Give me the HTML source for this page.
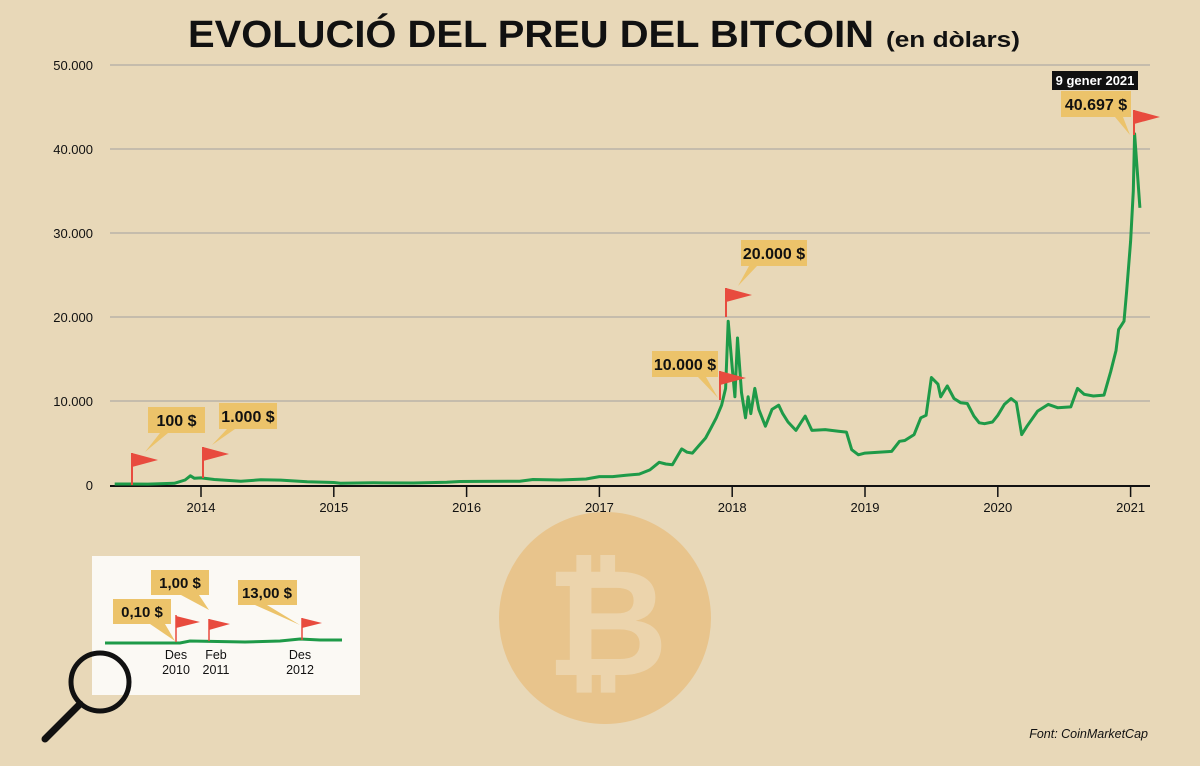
<!DOCTYPE html>
<html><head><meta charset="utf-8">
<style>
body{margin:0;background:#e8d8b8;}
svg{display:block;font-family:"Liberation Sans",sans-serif;}
</style></head>
<body>
<svg id="c" width="1200" height="766" viewBox="0 0 1200 766">
<rect x="0" y="0" width="1200" height="766" fill="#e8d8b8"/>
<text x="188" y="47" font-size="38" font-weight="900" fill="#111" textLength="686" lengthAdjust="spacingAndGlyphs">EVOLUCIÓ DEL PREU DEL BITCOIN</text>
<text x="886" y="47" font-size="22" font-weight="700" fill="#111" textLength="134" lengthAdjust="spacingAndGlyphs">(en dòlars)</text>
<g>
<circle cx="605" cy="618" r="106" fill="#e8c48c"/>
<text x="607" y="675" font-size="150" font-weight="700" fill="#ecd4ac" text-anchor="middle">₿</text>
</g>
<g id="grid"></g>
<g id="axes"></g>
<path id="line" fill="none" stroke="#1e9a48" stroke-width="3" stroke-linejoin="round"/>
<g id="ann"></g>
<g>
<rect x="92" y="556" width="268" height="139" fill="#fbf9f4"/>
<path d="M105,643 L180,643 L190,641 L245,642 L280,641 L300,639 L320,640 L342,640" stroke="#1e9a48" stroke-width="3" fill="none"/>
<line x1="176" y1="615" x2="176" y2="642" stroke="#e84b3e" stroke-width="1.5"/><polygon points="176,616 200,622 176,628" fill="#e84b3e"/>
<line x1="209" y1="619" x2="209" y2="641" stroke="#e84b3e" stroke-width="1.5"/><polygon points="209,619 230,624 209,630" fill="#e84b3e"/>
<line x1="302" y1="618" x2="302" y2="640" stroke="#e84b3e" stroke-width="1.5"/><polygon points="302,618 322,623 302,628" fill="#e84b3e"/>
<path d="M113,599 h58 v25 h-6 l10,17 l-25,-17 h-37z" fill="#ecc36a"/><text x="142" y="617" font-size="15" font-weight="700" text-anchor="middle" fill="#111">0,10 $</text>
<path d="M151,570 h58 v25 h-10 l10,15 l-28,-15 h-30z" fill="#ecc36a"/><text x="180" y="588" font-size="15" font-weight="700" text-anchor="middle" fill="#111">1,00 $</text>
<path d="M238,580 h59 v25 h-30 l33,20 l-45,-20 h-17z" fill="#ecc36a"/><text x="267" y="598" font-size="15" font-weight="700" text-anchor="middle" fill="#111">13,00 $</text>
<text x="176" y="659" font-size="12.5" text-anchor="middle" fill="#111">Des</text><text x="176" y="674" font-size="12.5" text-anchor="middle" fill="#111">2010</text>
<text x="216" y="659" font-size="12.5" text-anchor="middle" fill="#111">Feb</text><text x="216" y="674" font-size="12.5" text-anchor="middle" fill="#111">2011</text>
<text x="300" y="659" font-size="12.5" text-anchor="middle" fill="#111">Des</text><text x="300" y="674" font-size="12.5" text-anchor="middle" fill="#111">2012</text>
</g>
<g>
<circle cx="100" cy="682" r="29" fill="none" stroke="#111" stroke-width="5"/>
<line x1="80" y1="704" x2="45" y2="739" stroke="#111" stroke-width="7" stroke-linecap="round"/>
</g>
<text x="1148" y="738" font-size="12.5" font-style="italic" text-anchor="end" fill="#111">Font: CoinMarketCap</text>
</svg>
<script>
const yTicks=[0,10000,20000,30000,40000,50000];
const yTickLabels=["0","10.000","20.000","30.000","40.000","50.000"];
const xTicks=[2014,2015,2016,2017,2018,2019,2020,2021];
const dates=[2013.35,2013.6,2013.8,2013.88,2013.92,2013.95,2014.0,2014.1,2014.2,2014.3,2014.45,2014.6,2014.8,2015.0,2015.05,2015.3,2015.6,2015.85,2015.95,2016.1,2016.4,2016.5,2016.7,2016.9,2017.0,2017.1,2017.2,2017.3,2017.38,2017.45,2017.5,2017.55,2017.62,2017.66,2017.7,2017.75,2017.8,2017.84,2017.88,2017.92,2017.95,2017.97,2018.0,2018.02,2018.04,2018.07,2018.1,2018.12,2018.14,2018.17,2018.2,2018.25,2018.3,2018.35,2018.38,2018.42,2018.48,2018.52,2018.55,2018.6,2018.7,2018.8,2018.86,2018.9,2018.95,2019.0,2019.1,2019.2,2019.26,2019.3,2019.37,2019.42,2019.46,2019.5,2019.55,2019.57,2019.62,2019.67,2019.72,2019.77,2019.82,2019.86,2019.9,2019.96,2020.0,2020.05,2020.1,2020.14,2020.18,2020.22,2020.3,2020.38,2020.45,2020.55,2020.6,2020.65,2020.72,2020.8,2020.85,2020.89,2020.91,2020.93,2020.95,2020.97,2021.0,2021.02,2021.03,2021.05,2021.07,2021.09];
const prices=[120,110,200,600,1100,800,850,650,550,450,620,580,380,300,220,260,240,330,420,430,450,650,600,720,1000,1000,1150,1300,1800,2700,2500,2400,4300,3900,3800,4700,5600,6800,8000,9500,11500,19500,14000,10500,17500,11000,8000,10500,8500,11500,9000,7000,9000,9500,8500,7500,6500,7500,8200,6500,6600,6400,6300,4200,3600,3800,3900,4000,5200,5300,6000,8000,8300,12800,12000,10500,11800,10300,9800,9700,8200,7400,7300,7500,8300,9600,10300,9800,6000,7000,8800,9600,9200,9300,11500,10800,10600,10700,13500,16000,18500,19000,19500,23000,29000,35000,41800,37500,33000];
const X0=110,XL=1150,YB=485;
function xs(d){return 201+(d-2014)*132.8;}
function ys(v){return YB-v*0.0084;}
const ns="http://www.w3.org/2000/svg";
function mk(t,a,p){const e=document.createElementNS(ns,t);for(const k in a)e.setAttribute(k,a[k]);p.appendChild(e);return e;}
const grid=document.getElementById('grid'),axes=document.getElementById('axes');
yTicks.forEach((v,i)=>{
 if(v>0){const g=mk('line',{x1:X0,x2:XL,y1:ys(v),y2:ys(v),stroke:'#b9b3a8','stroke-width':1.5},grid);
 
 }
 const t=mk('text',{x:93,y:ys(v)+5,'font-size':13,'text-anchor':'end',fill:'#111'},axes);
 t.textContent=yTickLabels[i];
 
 
});
const ax=mk('line',{x1:X0,x2:XL,y1:YB+1,y2:YB+1,stroke:'#111','stroke-width':2},axes);


xTicks.forEach(d=>{
 const l=mk('line',{x1:xs(d),x2:xs(d),y1:YB+1,y2:YB+12,stroke:'#111','stroke-width':1.5},axes);
 
 
 const t=mk('text',{x:xs(d),y:YB+27,'font-size':13,'text-anchor':'middle',fill:'#111'},axes);
 t.textContent=d;
 
 
});
document.getElementById('line').setAttribute('d',dates.map((d,i)=>(i?'L':'M')+xs(d).toFixed(1)+','+ys(prices[i]).toFixed(1)).join(''));
const ann=document.getElementById('ann');
function flag(x,y1,y2){mk('line',{x1:x,x2:x,y1:y1,y2:y2,stroke:'#e84b3e','stroke-width':2},ann);mk('polygon',{points:`${x},${y1} ${x+26},${y1+7} ${x},${y1+14}`,fill:'#e84b3e'},ann);}
function label(x,y,w,txt,tx,ty,tb){mk('path',{d:`M${x},${y} h${w} v26 h${-(w-tb-8)} L${tx},${ty} L${x+tb},${y+26} H${x} Z`,fill:'#ecc36a'},ann);const t=mk('text',{x:x+w/2,y:y+19,'font-size':16,'font-weight':700,'text-anchor':'middle',fill:'#111'},ann);t.textContent=txt;}
flag(132,453,485);flag(203,447,478);flag(726,288,317);flag(720,371,400);flag(1134,110,135);
label(148,407,57,"100 $",145,452,12);
label(219,403,58,"1.000 $",212,445,8);
label(741,240,66,"20.000 $",738,286,8);
label(652,351,66,"10.000 $",718,398,46);
label(1061,91,70,"40.697 $",1130,135,54);
mk('rect',{x:1052,y:71,width:86,height:19,fill:'#111'},ann);
const dt=mk('text',{x:1095,y:85,'font-size':13,'font-weight':700,'text-anchor':'middle',fill:'#fff'},ann);
dt.textContent="9 gener 2021";


</script>
</body></html>
